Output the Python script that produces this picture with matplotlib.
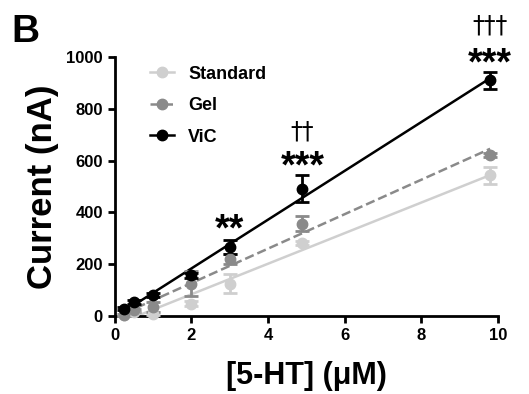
import matplotlib.pyplot as plt
import numpy as np

plt.rcParams['font.family'] = ['Liberation Sans', 'DejaVu Sans']
plt.rcParams['font.weight'] = 'bold'

conc = [0.25, 0.5, 1, 2, 3, 4.9, 9.8]

std_mean = [3, 15, 9, 48, 125, 283, 543]
std_err = [3, 5, 5, 8, 38, 8, 32]
gel_mean = [3, 22, 35, 125, 221, 356, 623]
gel_err = [3, 6, 20, 48, 20, 29, 8]
vic_mean = [28, 54, 80, 157, 266, 492, 910]
vic_err = [5, 6, 8, 10, 26, 53, 32]

labels = ['Standard', 'Gel', 'ViC']
colors = ['#cfcfcf', '#8a8a8a', '#000000']
styles = ['-', '--', '-']

stars = [(3, 330, '**'), (4.9, 575, '***'), (9.8, 970, '***')]
daggers = [(4.9, 712, '\u2020\u2020'), (9.8, 1124, '\u2020\u2020\u2020')]

fig = plt.figure(figsize=(5.29, 3.94), dpi=100)
ax = fig.add_axes([0.217, 0.198, 0.724, 0.657])

x = np.array(conc)
for m, e, c, ls, lab in zip([std_mean, gel_mean, vic_mean], [std_err, gel_err, vic_err],
                            colors, styles, labels):
    ax.errorbar(x, m, yerr=e, fmt='o', color=c, ms=7.5, capsize=5, capthick=2,
                elinewidth=2, clip_on=False, zorder=3)
    k, b = np.polyfit(x, m, 1)
    ax.plot(x[[0, -1]], k * x[[0, -1]] + b, ls, color=c, lw=1.8, zorder=2)
    ax.plot([], [], ls, color=c, marker='o', ms=7.5, lw=1.8, label=lab)

for xs, ys, t in stars:
    ax.text(xs, ys, t, ha='center', va='center', fontsize=27, fontweight='bold')
for xs, ys, t in daggers:
    ax.text(xs, ys, t, ha='center', va='center', fontsize=17, fontweight='normal',
            family='DejaVu Sans')

ax.set_xlim(0, 10)
ax.set_ylim(0, 1000)
ax.set_xticks([0, 2, 4, 6, 8, 10])
ax.set_yticks([0, 200, 400, 600, 800, 1000])
ax.spines['top'].set_visible(False)
ax.spines['right'].set_visible(False)
for s in ['left', 'bottom']:
    ax.spines[s].set_linewidth(2)
ax.tick_params(width=2, length=5, labelsize=12)
for t in ax.get_xticklabels() + ax.get_yticklabels():
    t.set_fontweight('bold')

ax.set_xlabel('[5-HT] (\u03bcM)', fontsize=22, fontweight='bold', labelpad=13)
ax.set_ylabel('Current (nA)', fontsize=25, fontweight='bold', labelpad=5)

leg = ax.legend(loc='upper left', bbox_to_anchor=(0.05, 1.03), frameon=False,
                fontsize=13, handlelength=1.3, handletextpad=0.8, labelspacing=0.8)
for t in leg.get_texts():
    t.set_fontweight('bold')

fig.text(0.022, 0.965, 'B', fontsize=28, fontweight='bold', va='top', ha='left')

fig.savefig('out.png', dpi=100)
